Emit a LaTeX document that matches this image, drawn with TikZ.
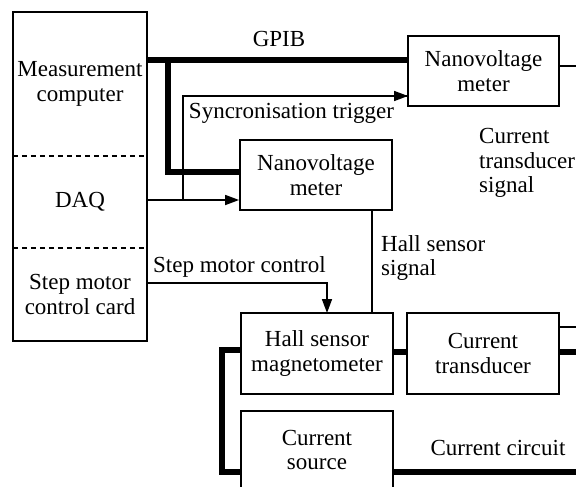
\documentclass[tikz,border=0pt]{standalone}
\usepackage{fontspec}
\setmainfont{Liberation Serif}
\usetikzlibrary{arrows.meta}
\begin{document}
\begin{tikzpicture}[x=1pt,y=-1pt,
  every node/.style={font=\fontsize{23}{24.5}\selectfont},
  blk/.style={draw,line width=1.8pt,inner sep=0pt,align=center},
  part/.style={inner sep=0pt,align=center,minimum width=134pt},
  thin/.style={line width=1.7pt},
  thick/.style={line width=6.5pt},
  arr/.style={thin,-{Triangle[length=14pt,width=10pt]}},
  lbl/.style={inner sep=0pt,align=left}]
\useasboundingbox (0,0) rectangle (576,487);
\clip (0,0) rectangle (576,487);
% left column
\node[part,minimum height=144pt] (mc) at (80,84) {Measurement\\computer};
\node[part,minimum height=92pt] (daq) at (80,202) {DAQ};
\node[part,minimum height=93pt] (smc) at (80,294.5) {Step motor\\control card};
\draw[line width=1.8pt] (mc.north west) rectangle (smc.south east);
\draw[thin,dashed,dash pattern=on 5pt off 4pt] (mc.south west) -- (mc.south east);
\draw[thin,dashed,dash pattern=on 5pt off 4pt] (daq.south west) -- (daq.south east);
% boxes
\node[blk,minimum width=151pt,minimum height=70pt] (nv1) at (483.5,71) {Nanovoltage\\meter};
\node[blk,minimum width=152pt,minimum height=70pt] (nv2) at (316,175) {Nanovoltage\\meter};
\node[blk,minimum width=152pt,minimum height=81pt] (hall) at (317,353.5) {Hall sensor\\magnetometer};
\node[blk,minimum width=152pt,minimum height=81pt] (ct) at (483,353.5) {Current\\transducer};
\node[blk,minimum width=152pt,minimum height=78pt] (cs) at (317,450) {Current\\source};
% coordinates
\coordinate (g0) at (147,60);
\coordinate (g1) at (408,60);
\coordinate (gb) at (168,60);
\coordinate (d0) at (147,200);
\coordinate (s0) at (183,200);
\coordinate (s1) at (408,96);
\coordinate (m0) at (147,283);
\coordinate (m1) at (327,313);
\coordinate (h0) at (372,210);
\coordinate (h1) at (372,313);
\coordinate (e1) at (580,66);
\coordinate (e2) at (580,327);
\coordinate (e3) at (580,352);
\coordinate (e4) at (580,472);
\coordinate (lx) at (222,350);
% GPIB
\draw[thick] (g0) -- (g1);
\draw[thick] (gb) |- (nv2.west |- 0,172);
\node[inner sep=0pt] (gpib) at (279,39) {GPIB};
% DAQ
\draw[arr] (d0) -- (nv2.west |- d0);
\draw[thin] (s0) |- (s1);
\draw[arr] (s0 |- s1) -- (s1);
\node[inner sep=0pt] (sync) at (291.5,113) {Syncronisation trigger};
% NV1 out
\draw[thin] (nv1.east |- e1) -- (e1);
\node[lbl,anchor=west] (cts) at (479,163) {Current\\transducer\\signal};
% Hall signal
\draw[thin] (h0) -- (h1);
\node[lbl,anchor=west] (hss) at (381,258) {Hall sensor\\signal};
% step motor
\draw[thin] (m0) -| (m1 |- 0,300);
\draw[arr] (m1 |- 0,295) -- (m1);
\node[lbl,anchor=west] (smcl) at (153,267) {Step motor control};
% current circuit
\draw[thick] (hall.east |- e3) -- (ct.west |- e3);
\draw[thick] (hall.west |- lx) -- (lx) -- (lx |- e4) -- (cs.west |- e4);
\draw[thick] (cs.east |- e4) -- (e4);
\draw[thick] (ct.east |- e3) -- (e3);
\draw[thin] (ct.east |- e2) -- (e2);
\node[inner sep=0pt] (cc) at (498,448) {Current circuit};
\end{tikzpicture}
\end{document}
